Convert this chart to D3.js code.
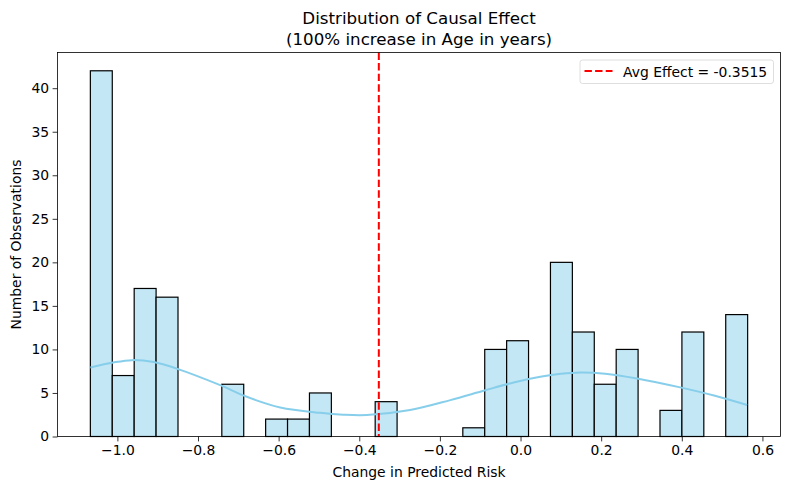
<!DOCTYPE html>
<html>
<head>
<meta charset="utf-8">
<script src="https://cdn.jsdelivr.net/npm/d3@7"></script>
<style>
	body { margin: 0; background: #fff; }
	svg { display: block; }
	text { font-family: "DejaVu Sans", sans-serif; fill: #000; }
</style>
</head>
<body>
<div id="chart"></div>
<script>
"use strict";

// histogram: 30 equal bins between data min and max
var dataMin = -1.067;
var dataMax = 0.5633;
var counts = [42, 7, 17, 16, 0, 0, 6, 0, 2, 2, 5, 0, 0, 4, 0, 0, 0, 1, 10, 11, 0, 20, 12, 6, 10, 0, 3, 12, 0, 14];

// kde curve
var kdeX = [-1.067, -1.01, -0.964, -0.91, -0.853, -0.745, -0.679, -0.596, -0.497, -0.44, -0.381, -0.274, -0.174, -0.092, -0.017, 0.049, 0.10, 0.148, 0.21, 0.289, 0.396, 0.48, 0.562];
var kdeY = [7.93, 8.5, 8.77, 8.55, 7.8, 5.9, 4.56, 3.34, 2.72, 2.5, 2.46, 3.04, 4.18, 5.25, 6.21, 6.85, 7.2, 7.36, 7.22, 6.67, 5.64, 4.7, 3.61];

var avgEffect = -0.3515;
var xTicks = [-1.0, -0.8, -0.6, -0.4, -0.2, 0.0, 0.2, 0.4, 0.6];
var yTicks = [0, 5, 10, 15, 20, 25, 30, 35, 40];

var width = 790, height = 489;
var mLeft = 57.5, mRight = 780.5, mTop = 52.5, mBottom = 436.5;

var svg = d3.select("#chart").append("svg")
	.attr("width", width)
	.attr("height", height);

var pad = (dataMax - dataMin) * 0.05;
var x = d3.scaleLinear()
	.domain([dataMin - pad, dataMax + pad])
	.range([mLeft, mRight]);

var y = d3.scaleLinear()
	.domain([0, d3.max(counts) * 1.05])
	.range([mBottom, mTop]);

var binW = (dataMax - dataMin) / counts.length;
var bins = counts.map(function(c, i) {
	return { x0: dataMin + i * binW, x1: dataMin + (i + 1) * binW, count: c };
});

// bars
svg.append("g")
	.selectAll("rect")
	.data(bins.filter(function(d) { return d.count > 0; }))
	.enter().append("rect")
	.attr("x", function(d) { return x(d.x0); })
	.attr("y", function(d) { return y(d.count); })
	.attr("width", function(d) { return x(d.x1) - x(d.x0); })
	.attr("height", function(d) { return y(0) - y(d.count); })
	.attr("fill", "rgb(195,231,245)")
	.attr("stroke", "#000")
	.attr("stroke-width", 1.2);

// kde
var line = d3.line()
	.x(function(d, i) { return x(kdeX[i]); })
	.y(function(d) { return y(d); })
	.curve(d3.curveCatmullRom);

svg.append("path")
	.attr("d", line(kdeY))
	.attr("fill", "none")
	.attr("stroke", "skyblue")
	.attr("stroke-width", 2);

// average line
svg.append("line")
	.attr("x1", x(avgEffect)).attr("x2", x(avgEffect))
	.attr("y1", mTop).attr("y2", mBottom)
	.attr("stroke", "red")
	.attr("stroke-width", 2)
	.attr("stroke-dasharray", "7.4,3.2");

// axes
var xAxis = d3.axisBottom(x)
	.tickValues(xTicks)
	.tickSize(4.9)
	.tickPadding(3.5)
	.tickFormat(function(d) { return d3.format(".1f")(d).replace("-", "\u2212"); });

var yAxis = d3.axisLeft(y)
	.tickValues(yTicks)
	.tickSize(4.9)
	.tickPadding(3.5);

var gx = svg.append("g")
	.attr("transform", "translate(0," + mBottom + ")")
	.call(xAxis);
var gy = svg.append("g")
	.attr("transform", "translate(" + mLeft + ",0)")
	.call(yAxis);

[gx, gy].forEach(function(g) {
	g.select(".domain").remove();
	g.selectAll(".tick line").attr("stroke", "#000").attr("stroke-width", 0.8);
	g.selectAll(".tick text").style("font-size", "13.9px").attr("fill", "#000");
});

// frame
svg.append("rect")
	.attr("x", mLeft).attr("y", mTop)
	.attr("width", mRight - mLeft).attr("height", mBottom - mTop)
	.attr("fill", "none")
	.attr("stroke", "#000")
	.attr("stroke-width", 0.8);

// titles
var cx = (mLeft + mRight) / 2;
svg.append("text")
	.attr("x", cx).attr("y", 24)
	.attr("text-anchor", "middle")
	.style("font-size", "16.7px")
	.text("Distribution of Causal Effect");
svg.append("text")
	.attr("x", cx).attr("y", 44.5)
	.attr("text-anchor", "middle")
	.style("font-size", "16.7px")
	.text("(100% increase in Age in years)");

svg.append("text")
	.attr("x", cx).attr("y", 476.5)
	.attr("text-anchor", "middle")
	.style("font-size", "13.9px")
	.text("Change in Predicted Risk");

svg.append("text")
	.attr("transform", "translate(21," + ((mTop + mBottom) / 2) + ") rotate(-90)")
	.attr("text-anchor", "middle")
	.style("font-size", "13.9px")
	.text("Number of Observations");

// legend
var legend = svg.append("g");
legend.append("rect")
	.attr("x", 580).attr("y", 60)
	.attr("width", 193.5).attr("height", 23.5)
	.attr("rx", 2.5)
	.attr("fill", "#fff")
	.attr("fill-opacity", 0.8)
	.attr("stroke", "#d5d5d5")
	.attr("stroke-width", 0.8);
legend.append("line")
	.attr("x1", 584.5).attr("x2", 612.5)
	.attr("y1", 71).attr("y2", 71)
	.attr("stroke", "red")
	.attr("stroke-width", 2)
	.attr("stroke-dasharray", "7.4,3.2");
legend.append("text")
	.attr("x", 623).attr("y", 76.5)
	.style("font-size", "13.9px")
	.text("Avg Effect = " + avgEffect);
</script>
</body>
</html>
